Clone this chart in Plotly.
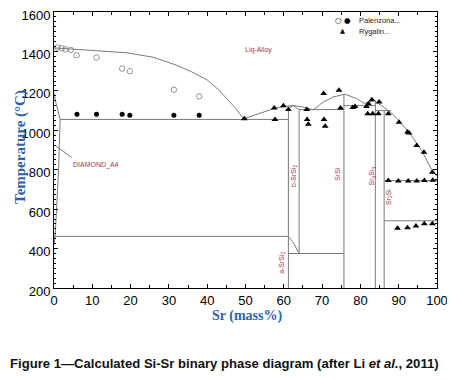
import plotly.graph_objects as go

# ---------------- data ----------------
# Calculated phase boundaries (Sr mass%, temperature °C)
liq_si_x = [0, 6, 12, 19, 26, 32, 36, 40, 43, 45, 47.5, 49.5]
liq_si_t = [1418, 1410, 1403, 1393, 1370, 1330, 1296, 1255, 1205, 1165, 1110, 1058]

liq_sr_x = [49.5, 53.3, 57.7, 60.5, 62.4, 65, 67.7, 70.3, 72.9, 76, 79, 81, 83.5, 85.5, 88, 90, 93, 96, 98.6, 100]
liq_sr_t = [1058, 1084, 1112, 1122, 1126, 1118, 1104, 1143, 1169, 1183, 1161, 1136, 1152, 1125, 1090, 1050, 982, 897, 800, 769]

si_solvus_x = [0, 0.5, 1.6, 1.2, 0.3, 0]
si_solvus_t = [1190, 1140, 1055, 800, 462, 420]

diamond_lead_x = [0.3, 4.6]
diamond_lead_t = [923, 863]

# horizontal invariants: (x start, x end, T)
h_x0 = [1.6, 0, 61.2, 64, 75.7, 83.9, 86.2, 86.2]
h_x1 = [61.2, 61.2, 75.7, 75.7, 83.9, 88.0, 100, 100]
h_t = [1055, 462, 375, 1105, 1125, 1100, 745, 541]

# vertical compound lines: (x, T top, T bottom)
v_x = [61.2, 64.0, 75.7, 83.9, 86.2]
v_top = [1110, 1105, 1183, 1152, 1100]
v_bot = [200, 375, 200, 200, 200]

bsrsi2_top_x = [61.2, 62.4, 64.0]
bsrsi2_top_t = [1110, 1125, 1105]
trans_x = [61.2, 62.5, 64.0]
trans_t = [462, 430, 375]

# experimental data
pal_open_x = [-0.2, 0.9, 2.0, 3.0, 4.4, 5.9, 11.1, 17.8, 19.8, 31.3, 37.9]
pal_open_t = [1425, 1420, 1416, 1411, 1408, 1381, 1369, 1313, 1300, 1206, 1172]
pal_solid_x = [6, 11.1, 17.8, 19.8, 31.3, 37.9]
pal_solid_t = [1081, 1081, 1081, 1076, 1076, 1076]

ryg_x = [49.7, 57.5, 57.7, 59.9, 61.2, 66.0, 66.1, 66.4, 70.4, 70.5, 70.8, 74.4, 74.8,
         78.0, 78.6, 81.6, 82.1, 83.0, 84.9, 81.9, 83.2, 84.7, 87.3, 90.1, 92.3, 92.7,
         94.7, 96.6, 98.8,
         87.3, 89.9, 92.5, 94.7, 96.7, 98.9,
         89.7, 92.3, 94.5, 96.7, 98.8]
ryg_t = [1059, 1113, 1055, 1125, 1105, 1105, 1055, 1030, 1186, 1055, 1020, 1203, 1113,
         1115, 1121, 1121, 1135, 1155, 1143, 1084, 1084, 1084, 1084, 1041, 991, 986,
         923, 889, 787,
         745, 743, 743, 743, 745, 746,
         503, 505, 515, 526, 526]

phase_labels = ["Liq-Alloy", "DIAMOND_A4", "b-SrSi<sub>2</sub>", "a-SrSi<sub>2</sub>",
                "SrSi", "Sr<sub>5</sub>Si<sub>3</sub>", "Sr<sub>2</sub>Si"]
phase_lx = [53.5, 11, 62.5, 59.5, 74.0, 83.0, 87.3]
phase_lt = [1406, 824, 770, 327, 782, 770, 663]
phase_angle = [0, 0, -90, -90, -90, -90, -90]

x_ticks = [0, 10, 20, 30, 40, 50, 60, 70, 80, 90, 100]
y_ticks = [200, 400, 600, 800, 1000, 1200, 1400, 1600]

legend_names = ["Palenzona...", "Rygalin..."]

# ---------------- figure ----------------
# the page body has an 8px default margin, so the figure is drawn 8px smaller
OFF = 8
FW, FH = 455 - OFF, 380 - OFF
L, R, T, B = 54 - OFF, 437 - OFF, 12 - OFF, 288 - OFF
W, H = R - L, B - T


def px(xp):
    return (xp - OFF - L) / W


def py(yp):
    return (B - (yp - OFF)) / H


LINE = dict(color="#7a7a7a", width=1)
fig = go.Figure()


def add_line(xs, ts):
    fig.add_trace(go.Scatter(x=xs, y=ts, mode="lines", line=LINE,
                             showlegend=False, hoverinfo="skip"))


add_line(liq_si_x, liq_si_t)
add_line(liq_sr_x, liq_sr_t)
add_line(si_solvus_x, si_solvus_t)
add_line(diamond_lead_x, diamond_lead_t)
add_line(bsrsi2_top_x, bsrsi2_top_t)
add_line(trans_x, trans_t)
for a, b, t in zip(h_x0, h_x1, h_t):
    add_line([a, b], [t, t])
for x, t0, t1 in zip(v_x, v_top, v_bot):
    add_line([x, x], [t0, t1])

fig.add_trace(go.Scatter(x=pal_open_x, y=pal_open_t, mode="markers",
                         marker=dict(symbol="circle-open", size=5.5, color="#777777",
                                     line=dict(width=0.8)),
                         showlegend=False, cliponaxis=False))
fig.add_trace(go.Scatter(x=pal_solid_x, y=pal_solid_t, mode="markers",
                         marker=dict(symbol="circle", size=5, color="black"),
                         showlegend=False))
fig.add_trace(go.Scatter(x=ryg_x, y=ryg_t, mode="markers",
                         marker=dict(symbol="triangle-up", size=6, color="black"),
                         showlegend=False))

for txt, lx, lt, ang in zip(phase_labels, phase_lx, phase_lt, phase_angle):
    fig.add_annotation(x=lx, y=lt, text=txt, showarrow=False, textangle=ang,
                       xanchor="center", yanchor="middle",
                       font=dict(family="Liberation Sans, Arial", size=7, color="#a3373f"))


def note(xp, yp, text, font, **kw):
    args = dict(xanchor="center", yanchor="middle")
    args.update(kw)
    fig.add_annotation(xref="paper", yref="paper", x=px(xp), y=py(yp), text=text,
                       showarrow=False, font=font, **args)


# legend drawn as text
note(343, 20, "○ ●", dict(family="DejaVu Sans", size=7.5, color="black"))
note(342, 31.5, "▲", dict(family="DejaVu Sans", size=6.5, color="black"))
for name, yy in zip(legend_names, [20, 31.5]):
    note(357, yy, name, dict(family="Liberation Sans, Arial", size=7.5, color="#222222"),
         xanchor="left")

TITLE_C = "#2f62a6"
note(247, 316, "<b>Sr (mass%)</b>",
     dict(family="Liberation Serif, Times New Roman", size=14, color=TITLE_C))
note(20, 147, "<b>Temperature (°C)</b>",
     dict(family="Liberation Serif, Times New Roman", size=15, color=TITLE_C), textangle=-90)
note(8, 363, "<b>Figure 1—Calculated Si-Sr binary phase diagram (after Li <i>et al.</i>, 2011)</b>",
     dict(family="Liberation Sans, Arial", size=13.1, color="#111111"), xanchor="left")

axis_common = dict(showline=True, linecolor="black", linewidth=1, mirror="ticks",
                   ticks="inside", ticklen=4, tickcolor="black", showgrid=False, zeroline=False,
                   automargin=False, ticklabeloverflow="allow",
                   tickfont=dict(family="Liberation Sans, Arial", size=13, color="black"))
fig.update_xaxes(range=[0, 100], tickmode="array", tickvals=x_ticks,
                 minor=dict(dtick=5, ticks="inside", ticklen=3, tickcolor="black"),
                 **axis_common)
fig.update_yaxes(range=[200, 1600], tickmode="array", tickvals=y_ticks,
                 ticklabelshift=3,
                 minor=dict(dtick=25, ticks="inside", ticklen=2, tickcolor="black"),
                 **axis_common)

fig.update_layout(width=FW, height=FH,
                  margin=dict(l=L, r=FW - R, t=T, b=FH - B, autoexpand=False),
                  paper_bgcolor="white", plot_bgcolor="white", showlegend=False)

fig.write_html("out.html")
